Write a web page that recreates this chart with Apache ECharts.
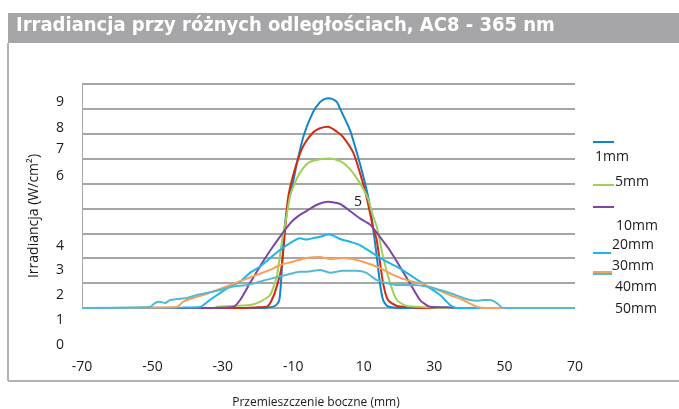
<!DOCTYPE html>
<html>
<head>
<meta charset="utf-8">
<script src="https://cdn.jsdelivr.net/npm/echarts@6/dist/echarts.min.js"></script>
<style>
html,body{margin:0;padding:0;background:#fff;}
#chart{width:679px;height:409px;}
</style>
</head>
<body>
<div id="chart"></div>
<script>
// dane: [przesunięcie mm, irradiancja]
var names = ['1mm','5mm','10mm','20mm','30mm','40mm','50mm'];
var colors = ['#0f86cc','#d32a14','#9fd05a','#7e45a6','#1ab6ec','#f8a154','#56b8d3'];
var xTicks = [-70,-50,-30,-10,10,30,50,70];
var yTicks = [0,1,2,3,4,5,6,7,8,9];

var d1mm = [[-70,0],[-22,0],[-17,0.02],[-15,0.1],[-14,0.3],[-13.5,1.0],[-13,2.2],[-12.5,3.2],[-11.5,4.2],[-10,5.1],[-9,5.8],[-7,6.95],[-4.4,7.87],[-2.4,8.27],[-1,8.4],[0,8.43],[1,8.4],[2.4,8.27],[3.3,8.0],[6.1,7.15],[8.4,6.07],[10.4,5.0],[11.8,4.07],[12.6,3.27],[13.6,2.2],[14.6,1.0],[15.5,0.32],[16.5,0.1],[17.5,0.04],[20,0],[70,0]];
var d5mm = [[-70,0],[-25,0],[-20,0.03],[-17.5,0.05],[-16.1,0.32],[-14.7,0.86],[-13.3,1.66],[-12.4,3.0],[-11.5,4.4],[-10.1,5.3],[-8.1,6.2],[-6.8,6.6],[-4.4,7.05],[-2.4,7.22],[-0.1,7.28],[2.4,7.08],[4.1,6.88],[7.0,6.25],[9.0,5.4],[10.8,4.47],[12.6,3.27],[13.7,2.73],[15.5,1.0],[16.9,0.32],[19.4,0.08],[23,0.03],[26,0],[70,0]];
var d10mm = [[-70,0],[-32,0],[-31.8,0.05],[-22.3,0.12],[-19.5,0.25],[-16.6,0.52],[-14.7,1.26],[-13.3,2.6],[-11.9,3.7],[-10.9,4.5],[-9,5.2],[-7.2,5.62],[-5.3,5.87],[-2.4,5.98],[0.4,6.01],[3.3,5.9],[5.5,5.67],[7.5,5.32],[9.4,4.9],[11.2,4.4],[12.6,3.7],[13.7,3.27],[15.5,2.06],[17.5,1.0],[19.4,0.32],[22.2,0.08],[28.8,0.03],[31,0],[70,0]];
var d20mm = [[-70,0],[-36.5,0],[-27.1,0.04],[-25.1,0.32],[-22.3,1.0],[-19.5,1.66],[-16.6,2.3],[-13.8,2.86],[-10.9,3.4],[-9,3.65],[-6.2,3.9],[-3.4,4.14],[-0.1,4.27],[3.3,4.18],[6.1,3.9],[8.9,3.6],[11.8,3.35],[14.6,2.86],[17.5,2.3],[20.3,1.66],[23.1,1.0],[26,0.32],[28.8,0.05],[33.6,0.03],[36,0],[70,0]];
var d30mm = [[-70,0],[-41.3,0.02],[-36.5,0.04],[-33.7,0.32],[-30.8,0.6],[-28,0.86],[-25.1,1.06],[-22.3,1.41],[-19.5,1.66],[-16.6,2.0],[-13.8,2.33],[-10.9,2.61],[-8.1,2.8],[-6.2,2.75],[-4,2.82],[-2.4,2.86],[0,2.95],[1.5,2.9],[3.3,2.77],[6.1,2.66],[8.9,2.53],[12.6,2.2],[16.5,1.86],[19.4,1.66],[23.1,1.33],[26,1.06],[28.8,0.8],[31.7,0.52],[34.5,0.12],[36.4,0],[70,0]];
var d40mm = [[-70,0],[-43.1,0.04],[-41.3,0.25],[-38.5,0.4],[-35.6,0.52],[-31.8,0.72],[-28,0.92],[-24.3,1.12],[-20.4,1.33],[-16.6,1.53],[-13.8,1.73],[-10.1,1.86],[-6.2,2.01],[-2.4,2.05],[0.4,1.97],[4.1,2.01],[8,1.93],[10.8,1.81],[14.6,1.61],[18.3,1.33],[22.2,1.12],[26,1.0],[29.7,0.8],[34.5,0.52],[38.2,0.32],[42.1,0.05],[45,0],[70,0]];
var d50mm = [[-70,0],[-50.7,0.04],[-49.3,0.2],[-47.9,0.25],[-46.4,0.2],[-45,0.32],[-43.1,0.36],[-40.3,0.4],[-37.4,0.52],[-34.6,0.6],[-30.8,0.72],[-27.1,0.86],[-23.1,0.92],[-19.5,1.06],[-15.8,1.2],[-11.9,1.33],[-8.1,1.46],[-6.2,1.46],[-2.4,1.53],[0.4,1.42],[4.1,1.5],[8,1.5],[10.8,1.41],[13.7,1.12],[16.5,1.0],[19.4,0.92],[24,0.92],[27.9,0.86],[31.7,0.72],[34.5,0.6],[37.4,0.45],[40.2,0.32],[42.1,0.29],[43.9,0.32],[45.9,0.32],[47.8,0.2],[49.6,0],[70,0]];
var seriesData = [d1mm,d5mm,d10mm,d20mm,d30mm,d40mm,d50mm];

var myChart = echarts.init(document.getElementById('chart'));
var txt = {fontFamily:'Open Sans',fontSize:14,fill:'#1a1a1a'};

var series = [];
for(var i=0;i<names.length;i++){
	series.push({
		name:names[i],
		type:'line',
		data:seriesData[i],
		showSymbol:false,
		smooth:0.2,
		lineStyle:{width:2,color:colors[i]},
		itemStyle:{color:colors[i]},
		z:2+i
	});
}

// etykiety osi Y - rozrzucone jak w oryginale
var yLabelPos = {9:[60,102],8:[60,128],7:[60,149],6:[60,176],5:[358,202],4:[60,246],3:[60,270],2:[60,295],1:[60,320],0:[60,345]};
var graphic = [
	{type:'rect',shape:{x:8,y:13,width:671,height:30},style:{fill:'#a6a6a8'}},
	{type:'text',left:16,top:16,style:{text:'Irradiancja przy różnych odległościach, AC8 - 365 nm',fontFamily:'DejaVu Sans Condensed',fontWeight:'bold',fontSize:20,fill:'#fff'}},
	{type:'line',shape:{x1:8,y1:43,x2:8,y2:381},style:{stroke:'#b3b3b3',lineWidth:2}},
	{type:'line',shape:{x1:8,y1:381,x2:679,y2:381},style:{stroke:'#b3b3b3',lineWidth:2}},
	{type:'text',x:34,y:216,rotation:Math.PI/2,style:{text:'Irradiancja (W/cm²)',fontFamily:'Open Sans',fontSize:14,fill:'#1a1a1a',align:'center',verticalAlign:'middle'}},
	{type:'text',x:316,y:403,style:{text:'Przemieszczenie boczne (mm)',fontFamily:'Open Sans',fontSize:12,fill:'#1a1a1a',align:'center',verticalAlign:'middle'}}
];
yTicks.forEach(function(v){
	var p = yLabelPos[v];
	graphic.push({type:'text',x:p[0],y:p[1],style:{text:String(v),fontFamily:txt.fontFamily,fontSize:txt.fontSize,fill:txt.fill,align:'center',verticalAlign:'middle'}});
});
// legenda - tez rozjechana
var legendMarks = [[0,593,614,142],[2,593,614,185],[3,593,614,207],[4,593,611,253],[5,593,612,272],[6,593,612,274]];
legendMarks.forEach(function(m){
	graphic.push({type:'line',shape:{x1:m[1],y1:m[3],x2:m[2],y2:m[3]},style:{stroke:colors[m[0]],lineWidth:2}});
});
var legendTexts = [['1mm',595,157],['5mm',615,182],['10mm',616,226],['20mm',612,245],['30mm',612,266],['40mm',615,287],['50mm',615,309]];
legendTexts.forEach(function(t){
	graphic.push({type:'text',x:t[1],y:t[2],style:{text:t[0],fontFamily:txt.fontFamily,fontSize:txt.fontSize,fill:txt.fill,verticalAlign:'middle'}});
});

option = {
	animation:false,
	grid:{left:82,right:104,top:84,bottom:101},
	xAxis:{
		type:'value',
		min:-70,
		max:70,
		interval:10,
		axisLine:{show:false},
		axisTick:{show:false},
		splitLine:{show:false},
		axisLabel:{
			margin:52,
			fontFamily:'Open Sans',
			fontSize:14,
			color:'#1a1a1a',
			formatter:function(v){ return xTicks.indexOf(v)>=0 ? String(v) : ''; }
		}
	},
	yAxis:{
		type:'value',
		min:0,
		max:9,
		interval:1,
		axisLine:{show:true,onZero:false,lineStyle:{color:'#a6a6a6',width:1}},
		axisTick:{show:false},
		axisLabel:{show:false},
		splitLine:{lineStyle:{color:'#a6a6a6',width:2}}
	},
	graphic:graphic,
	series:series
};
myChart.setOption(option);
</script>
</body>
</html>
